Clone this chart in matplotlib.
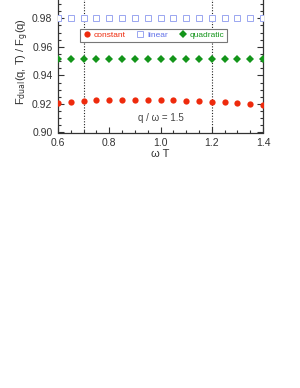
import matplotlib
matplotlib.use("Agg")
import matplotlib.pyplot as plt
from matplotlib.ticker import MultipleLocator

plt.rcParams['font.family'] = ['Liberation Sans', 'DejaVu Sans']

omega_T = [0.60, 0.65, 0.70, 0.75, 0.80, 0.85, 0.90, 0.95, 1.00,
           1.05, 1.10, 1.15, 1.20, 1.25, 1.30, 1.35, 1.40]
constant = [0.9205, 0.9212, 0.9219, 0.9226, 0.9228, 0.9230, 0.9230, 0.9230, 0.9228,
            0.9226, 0.9223, 0.9219, 0.9216, 0.9212, 0.9207, 0.9202, 0.9195]
linear = [0.9805] * 17
quadratic = [0.9518] * 17
vlines = [0.7, 1.2]

W, H = 300, 388
fig = plt.figure(figsize=(W / 100, H / 100), dpi=100)
ax = fig.add_axes([58 / W, 1 - 132.5 / H, 205 / W, (132.5 + 10.25) / H])

red = '#ee2a0c'
blue = '#9aa6f0'
green = '#13951a'

ax.plot(omega_T, constant, 'o', color=red, markersize=4.5, markeredgewidth=0, label='constant', zorder=3)
ax.plot(omega_T, linear, 's', markerfacecolor='white', markeredgecolor=blue, markersize=4.2,
        markeredgewidth=0.7, label='linear', zorder=3)
ax.plot(omega_T, quadratic, 'D', color=green, markersize=3.8, markeredgewidth=0, label='quadratic', zorder=3)

for xv in vlines:
    ax.axvline(xv, color='#222222', linestyle=(0, (1, 1.5)), linewidth=0.8, zorder=1)

ax.set_xlim(0.6, 1.4)
ax.set_ylim(0.90, 1.00)
ax.xaxis.set_major_locator(MultipleLocator(0.2))
ax.xaxis.set_minor_locator(MultipleLocator(0.05))
ax.yaxis.set_major_locator(MultipleLocator(0.02))
ax.yaxis.set_minor_locator(MultipleLocator(0.005))
ax.xaxis.set_major_formatter(plt.FuncFormatter(lambda v, p: f"{v:.1f}"))
ax.yaxis.set_major_formatter(plt.FuncFormatter(lambda v, p: "" if v > 0.99 else f"{v:.2f}"))

ax.tick_params(which='both', direction='in', right=True, top=False, colors='#333333',
               labelsize=7.5, width=0.8)
ax.tick_params(which='major', length=4, pad=4)
ax.tick_params(which='minor', length=2.5)
ax.spines['top'].set_visible(False)
for s in ['left', 'bottom', 'right']:
    ax.spines[s].set_color('#333333')
    ax.spines[s].set_linewidth(0.9)

ax.set_xlabel('ω T', fontsize=8, color='#333333', labelpad=1)
ax.set_ylabel(r'F$_{\rm dual}$(q, T) / F$_{\rm g}$(q)', fontsize=8, color='#333333', labelpad=1)

ax.text(1.0, 0.9102, 'q / ω = 1.5', fontsize=7, color='#444444', ha='center', va='center')

leg = ax.legend(loc='upper left', bbox_to_anchor=(80 / W, 1 - 29 / H), bbox_transform=fig.transFigure,
                ncol=3, fontsize=6.0, frameon=True, fancybox=False, framealpha=1,
                edgecolor='#777777', borderaxespad=0, handletextpad=0.3, columnspacing=1.3,
                borderpad=0.3, handlelength=1.0)
leg.get_frame().set_linewidth(0.8)
for t, c in zip(leg.get_texts(), [red, '#6070e8', green]):
    t.set_color(c)

fig.savefig('out.png', dpi=100)
